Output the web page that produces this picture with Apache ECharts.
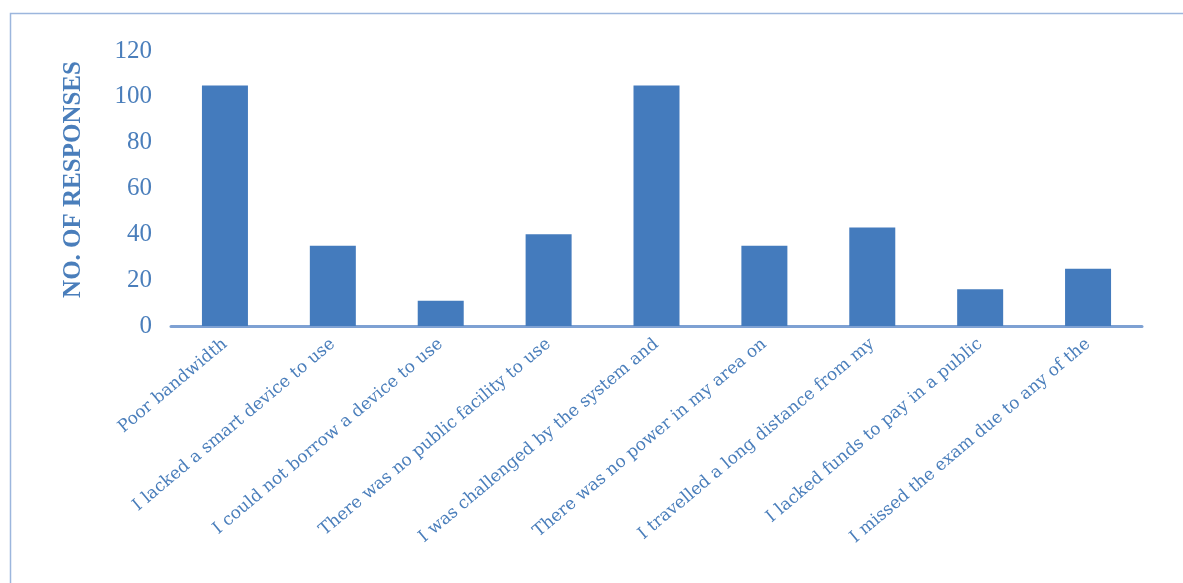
<!DOCTYPE html>
<html>
<head>
<meta charset="utf-8">
<script src="https://cdn.jsdelivr.net/npm/echarts@6/dist/echarts.min.js"></script>
<style>html,body{margin:0;padding:0;background:#fff;}#c{width:1183px;height:583px;}</style>
</head>
<body>
<div id="c"></div>
<script>
var categories = [
  "Poor bandwidth",
  "I lacked a smart device to use",
  "I could not borrow a device to use",
  "There was no public facility to use",
  "I was challenged by the system and",
  "There was no power in my area on",
  "I travelled a long distance from my",
  "I lacked funds to pay in a public",
  "I missed the exam due to any of the"
];
var responses = [105, 35, 11, 40, 105, 35, 43, 16, 25];
var yTicks = { min: 0, max: 120, interval: 20 };
var yName = "NO. OF RESPONSES";

var textColor = "#4a7ebb";
var font = "Liberation Serif";
var chart = echarts.init(document.getElementById('c'));
chart.setOption({
  animation: false,
  graphic: [{
    type: 'rect', left: 8, top: 11,
    shape: { width: 1200, height: 600 },
    style: { fill: 'none', stroke: '#9cb6dd', lineWidth: 1.5 }
  }],
  grid: { left: 171, right: 41, top: 51, bottom: 257 },
  xAxis: {
    type: 'category',
    data: categories,
    axisLine: { lineStyle: { color: '#7ea1d3', width: 3 } },
    axisTick: { show: false },
    axisLabel: {
      interval: 0, rotate: 40, margin: 16,
      color: textColor, fontFamily: 'DejaVu Serif', fontSize: 17
    }
  },
  yAxis: {
    type: 'value',
    min: yTicks.min, max: yTicks.max, interval: yTicks.interval,
    name: yName, nameLocation: 'middle', nameGap: 85,
    nameTextStyle: { color: textColor, fontFamily: font, fontSize: 25, fontWeight: 'bold', padding: [0, 0, 0, 18] },
    axisLine: { show: false }, axisTick: { show: false },
    splitLine: { show: false },
    axisLabel: { color: textColor, fontFamily: font, fontSize: 25, margin: 19, padding: [5, 0, 0, 0] }
  },
  series: [{
    type: 'bar',
    data: responses,
    barWidth: 46,
    itemStyle: { color: '#447bbd' }
  }]
});
</script>
</body>
</html>
